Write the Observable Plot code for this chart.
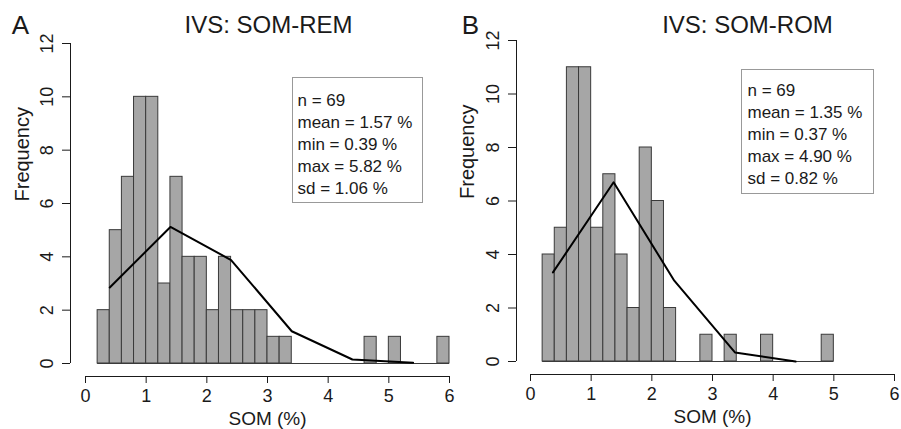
<!DOCTYPE html>
<html>
<head>
<meta charset="utf-8">
<script src="https://cdn.jsdelivr.net/npm/d3@7"></script>
<script src="https://cdn.jsdelivr.net/npm/@observablehq/plot@0.6"></script>
<style>
  html, body { margin: 0; padding: 0; background: #fff; }
  #wrap { position: relative; width: 901px; height: 429px; overflow: hidden; }
  .panel { position: absolute; top: 0; }
  .panel svg { overflow: visible; }
</style>
</head>
<body>
<div id="wrap">
  <div class="panel" id="pa" style="left:0px"></div>
  <div class="panel" id="pb" style="left:450px"></div>
</div>
<script>
// ---------- Data ----------
const xTicks = [0, 1, 2, 3, 4, 5, 6];
const yTicks = [0, 2, 4, 6, 8, 10, 12];
const binWidth = 0.2;

// Panel A: IVS: SOM-REM
const titleA = "IVS: SOM-REM";
const letterA = "A";
const binStartA = [0.2, 0.4, 0.6, 0.8, 1.0, 1.2, 1.4, 1.6, 1.8, 2.0, 2.2, 2.4, 2.6, 2.8, 3.0,
                   3.2, 3.4, 3.6, 3.8, 4.0, 4.2, 4.4, 4.6, 4.8, 5.0, 5.2, 5.4, 5.6, 5.8];
const countA    = [2, 5, 7, 10, 10, 3, 7, 4, 4, 2, 4, 2, 2, 2, 1,
                   1, 0, 0, 0, 0, 0, 0, 1, 0, 1, 0, 0, 0, 1];
const curveXA = [0.40, 1.40, 2.40, 3.40, 4.40, 5.40];
const curveYA = [2.85, 5.12, 3.88, 1.21, 0.15, 0.03];
const statsA = ["n = 69", "mean = 1.57 %", "min = 0.39 %", "max = 5.82 %", "sd = 1.06 %"];

// Panel B: IVS: SOM-ROM
const titleB = "IVS: SOM-ROM";
const letterB = "B";
const binStartB = [0.2, 0.4, 0.6, 0.8, 1.0, 1.2, 1.4, 1.6, 1.8, 2.0, 2.2, 2.4,
                   2.6, 2.8, 3.0, 3.2, 3.4, 3.6, 3.8, 4.0, 4.2, 4.4, 4.6, 4.8];
const countB    = [4, 5, 11, 11, 5, 7, 4, 2, 8, 6, 2, 0,
                   0, 1, 0, 1, 0, 0, 1, 0, 0, 0, 0, 1];
const curveXB = [0.37, 1.37, 2.37, 3.37, 4.37];
const curveYB = [3.33, 6.70, 3.02, 0.34, 0.00];
const statsB = ["n = 69", "mean = 1.35 %", "min = 0.37 %", "max = 4.90 %", "sd = 0.82 %"];

const xLabel = "SOM (%)";
const yLabel = "Frequency";

// ---------- Drawing ----------
const FONT = "'Liberation Sans', Arial, Helvetica, sans-serif";
const INK = "#1a1a1a";

function panel(cfg) {
  const bars = cfg.starts.map((s, i) => ({x1: s, x2: s + binWidth, y: cfg.counts[i]}));
  const curve = cfg.cx.map((x, i) => ({x, y: cfg.cy[i]}));
  return Plot.plot({
    width: cfg.width,
    height: 429,
    marginLeft: cfg.marginLeft,
    marginRight: cfg.marginRight,
    marginTop: cfg.marginTop,
    marginBottom: cfg.marginBottom,
    style: {fontFamily: FONT, background: "transparent", overflow: "visible", color: INK},
    x: {domain: [0, 6]},
    y: {domain: [0, 12]},
    marks: [
      // bars
      Plot.rectY(bars, {x1: "x1", x2: "x2", y: "y", fill: "#a6a6a6", stroke: "#3a3a3a", strokeWidth: 1}),
      // zero-height bins drawn as baseline
      Plot.ruleY([0], {x1: cfg.starts[0], x2: cfg.starts[cfg.starts.length - 1] + binWidth, stroke: "#3a3a3a", strokeWidth: 1}),
      // curve
      Plot.line(curve, {x: "x", y: "y", stroke: "#000", strokeWidth: 2}),
      // x axis (detached, R style)
      Plot.ruleY([0], {x1: xTicks[0], x2: xTicks[xTicks.length - 1], dy: cfg.axisGapX, stroke: INK, strokeWidth: 1}),
      Plot.axisX({ticks: xTicks, tickFormat: d => String(d), tickSize: 7, tickPadding: 6, dy: cfg.axisGapX,
                  fontSize: 18, label: null, color: INK}),
      // y axis (detached, rotated labels)
      Plot.ruleX([0], {y1: yTicks[0], y2: yTicks[yTicks.length - 1], dx: -cfg.axisGapY, stroke: INK, strokeWidth: 1}),
      Plot.axisY({ticks: yTicks, tickFormat: d => String(d), tickSize: 8, tickPadding: 15, dx: -cfg.axisGapY,
                  tickRotate: -90, textAnchor: "middle", lineAnchor: "middle", fontSize: 18, label: null, color: INK}),
      // axis titles
      Plot.text([xLabel], {frameAnchor: "bottom", dy: cfg.xLabelDy, fontSize: 19, fill: INK, lineAnchor: "middle"}),
      Plot.text([yLabel], {frameAnchor: "left", dx: cfg.yLabelDx, dy: cfg.yLabelDy, rotate: -90, fontSize: 20, fill: INK, lineAnchor: "middle"}),
      // title and panel letter
      Plot.text([cfg.title], {frameAnchor: "top", dx: cfg.titleDx, dy: cfg.titleDy, fontSize: 24, fill: INK, lineAnchor: "middle"}),
      Plot.text([cfg.letter], {frameAnchor: "top-left", dx: cfg.letterDx, dy: cfg.titleDy, fontSize: 26, fill: INK, lineAnchor: "middle", textAnchor: "middle"}),
      // statistics box
      Plot.frame({insetLeft: cfg.box[0], insetRight: cfg.box[1], insetTop: cfg.box[2], insetBottom: cfg.box[3],
                  stroke: "#333", strokeWidth: 1, strokeDasharray: "1,1"}),
      Plot.text([cfg.stats.join("\n")], {frameAnchor: "top-left", dx: cfg.statsDx, dy: cfg.statsDy, textAnchor: "start",
                  lineAnchor: "top", lineHeight: 1.29, fontSize: 17, fill: INK})
    ]
  });
}

document.getElementById("pa").appendChild(panel({
  width: 450, marginLeft: 85, marginRight: 1, marginTop: 43, marginBottom: 66,
  axisGapX: 13, axisGapY: 15,
  starts: binStartA, counts: countA, cx: curveXA, cy: curveYA, stats: statsA,
  title: titleA, letter: letterA,
  titleDx: 1, titleDy: -18, letterDx: -65,
  xLabelDy: 55, yLabelDx: -63, yLabelDy: -2,
  box: [207, 27, 34, 161], statsDx: 212, statsDy: 47
}));

document.getElementById("pb").appendChild(panel({
  width: 451, marginLeft: 80, marginRight: 7, marginTop: 40, marginBottom: 68,
  axisGapX: 13, axisGapY: 14,
  starts: binStartB, counts: countB, cx: curveXB, cy: curveYB, stats: statsB,
  title: titleB, letter: letterB,
  titleDx: 35, titleDy: -15, letterDx: -60,
  xLabelDy: 55, yLabelDx: -63, yLabelDy: -2,
  box: [211, 21, 29, 168], statsDx: 217, statsDy: 40
}));
</script>
</body>
</html>
